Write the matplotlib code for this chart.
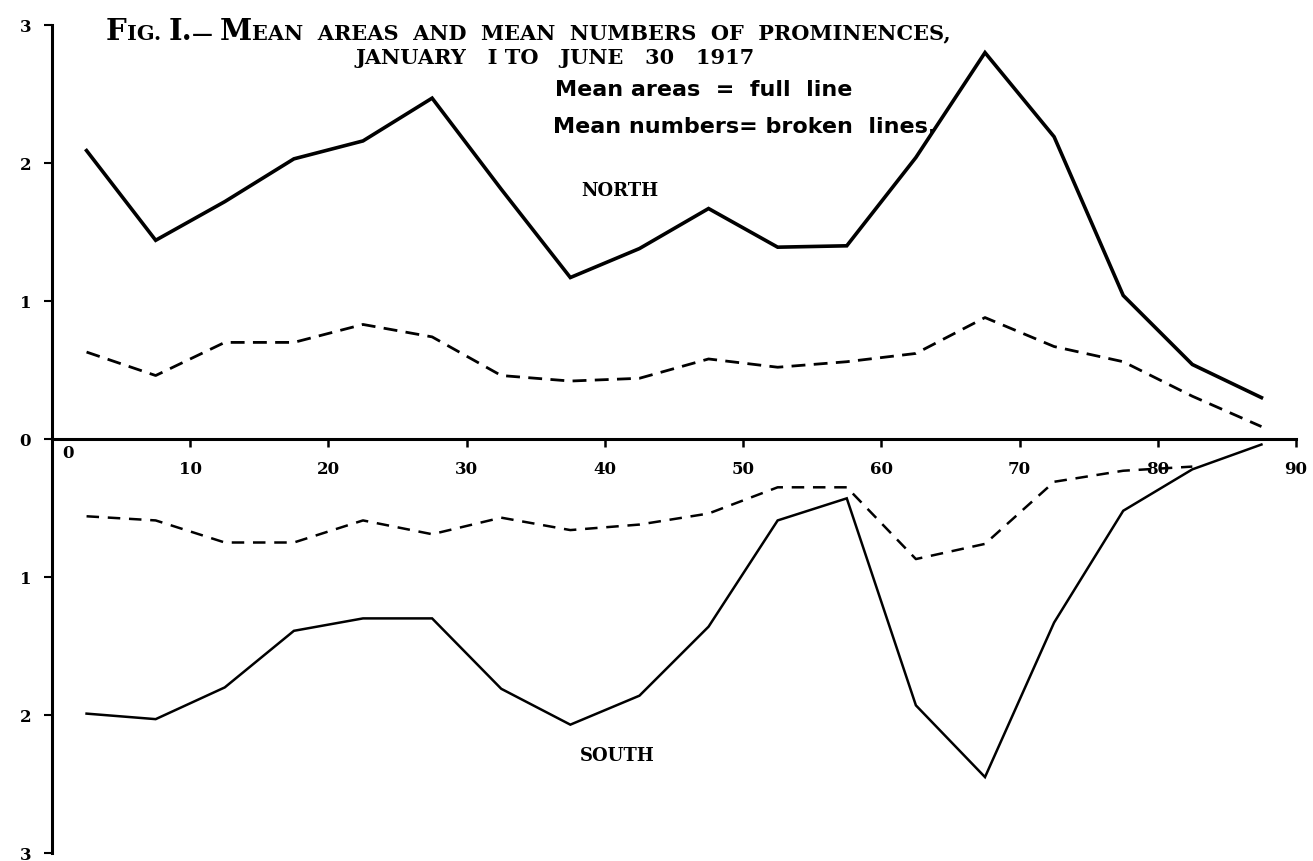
import matplotlib
matplotlib.use("Agg")
import matplotlib.pyplot as plt
from matplotlib.offsetbox import TextArea, HPacker, AnnotationBbox

# ---- data ----
latitude = [2.5, 7.5, 12.5, 17.5, 22.5, 27.5, 32.5, 37.5, 42.5,
            47.5, 52.5, 57.5, 62.5, 67.5, 72.5, 77.5, 82.5, 87.5]
north_areas = [2.09, 1.44, 1.72, 2.03, 2.16, 2.47, 1.81, 1.17, 1.38,
               1.67, 1.39, 1.40, 2.04, 2.80, 2.19, 1.04, 0.54, 0.30]
north_numbers = [0.63, 0.46, 0.70, 0.70, 0.83, 0.74, 0.46, 0.42, 0.44,
                 0.58, 0.52, 0.56, 0.62, 0.88, 0.67, 0.56, 0.31, 0.09]
south_areas = [1.99, 2.03, 1.80, 1.39, 1.30, 1.30, 1.81, 2.07, 1.86,
               1.36, 0.59, 0.43, 1.93, 2.45, 1.33, 0.52, 0.22, 0.04]
south_numbers = [0.56, 0.59, 0.75, 0.75, 0.59, 0.69, 0.57, 0.66, 0.62,
                 0.54, 0.35, 0.35, 0.87, 0.76, 0.31, 0.23, 0.20]
x_ticks = [10, 20, 30, 40, 50, 60, 70, 80, 90]
y_ticks = [-3, -2, -1, 0, 1, 2, 3]
y_tick_labels = ["3", "2", "1", "0", "1", "2", "3"]

W, H = 1313, 861
SERIF = "DejaVu Serif"
fig = plt.figure(figsize=(W / 100, H / 100), dpi=100)
ax = fig.add_axes([52 / W, 8 / H, 1244 / W, 828 / H])
ax.set_xlim(0, 90)
ax.set_ylim(-3, 3)
ax.patch.set_alpha(0)

ax.plot(latitude, north_areas, color="black", lw=2.6, solid_joinstyle="miter")
ax.plot(latitude, north_numbers, color="black", lw=2.0, ls=(0, (5, 3)))
ax.plot(latitude, [-v for v in south_areas], color="black", lw=1.8,
        solid_joinstyle="miter")
ax.plot(latitude[:len(south_numbers)], [-v for v in south_numbers],
        color="black", lw=1.8, ls=(0, (5, 3.5)))

for s in ("top", "right"):
    ax.spines[s].set_visible(False)
ax.spines["bottom"].set_position(("data", 0))
ax.spines["bottom"].set_linewidth(2.2)
ax.spines["left"].set_linewidth(2.2)

ax.set_xticks(x_ticks)
ax.set_xticklabels([str(t) for t in x_ticks], fontfamily=SERIF,
                   fontweight="bold", fontsize=12)
ax.tick_params(axis="x", direction="out", length=6, width=1.8, pad=10)
ax.set_yticks(y_ticks)
ax.set_yticklabels(y_tick_labels, fontfamily=SERIF, fontweight="bold",
                   fontsize=12)
ax.tick_params(axis="y", direction="out", length=6, width=1.5, pad=9)
ax.annotate("0", xy=(0, 0), xytext=(16, -15), textcoords="offset pixels",
            ha="center", va="center", fontfamily=SERIF, fontweight="bold",
            fontsize=12)

# ---- title in small caps ----
BIG, SMALL = 21, 15


def smallcaps(runs, x, y, align=0):
    kids = [TextArea(t, textprops=dict(fontsize=(BIG if big else SMALL),
                                       fontweight="bold", family=SERIF))
            for t, big in runs]
    box = HPacker(children=kids, align="baseline", pad=0, sep=0)
    ab = AnnotationBbox(box, (x, y), xycoords="figure pixels",
                        box_alignment=(align, 0.5), frameon=False)
    fig.add_artist(ab)


smallcaps([("F", True), ("IG. ", False), ("I.", True), ("— ", False),
           ("M", True), ("EAN  AREAS  AND  MEAN  NUMBERS  OF  PROMINENCES,", False)],
          106, H - 31)
smallcaps([("JANUARY   I TO   JUNE   30   1917", False)], 356, H - 58)

fig.text(555 / W, 1 - 90 / H, "Mean areas  =  full  line", fontsize=16,
         fontweight="bold", family="DejaVu Sans", va="center", ha="left")
fig.text(553 / W, 1 - 127 / H, "Mean numbers= broken  lines.", fontsize=16,
         fontweight="bold", family="DejaVu Sans", va="center", ha="left")

ax.text(41.1, 1.80, "NORTH", fontsize=13, fontweight="bold", family=SERIF,
        ha="center", va="center")
ax.text(40.9, -2.30, "SOUTH", fontsize=13, fontweight="bold", family=SERIF,
        ha="center", va="center")

fig.savefig("out.png", dpi=100)
